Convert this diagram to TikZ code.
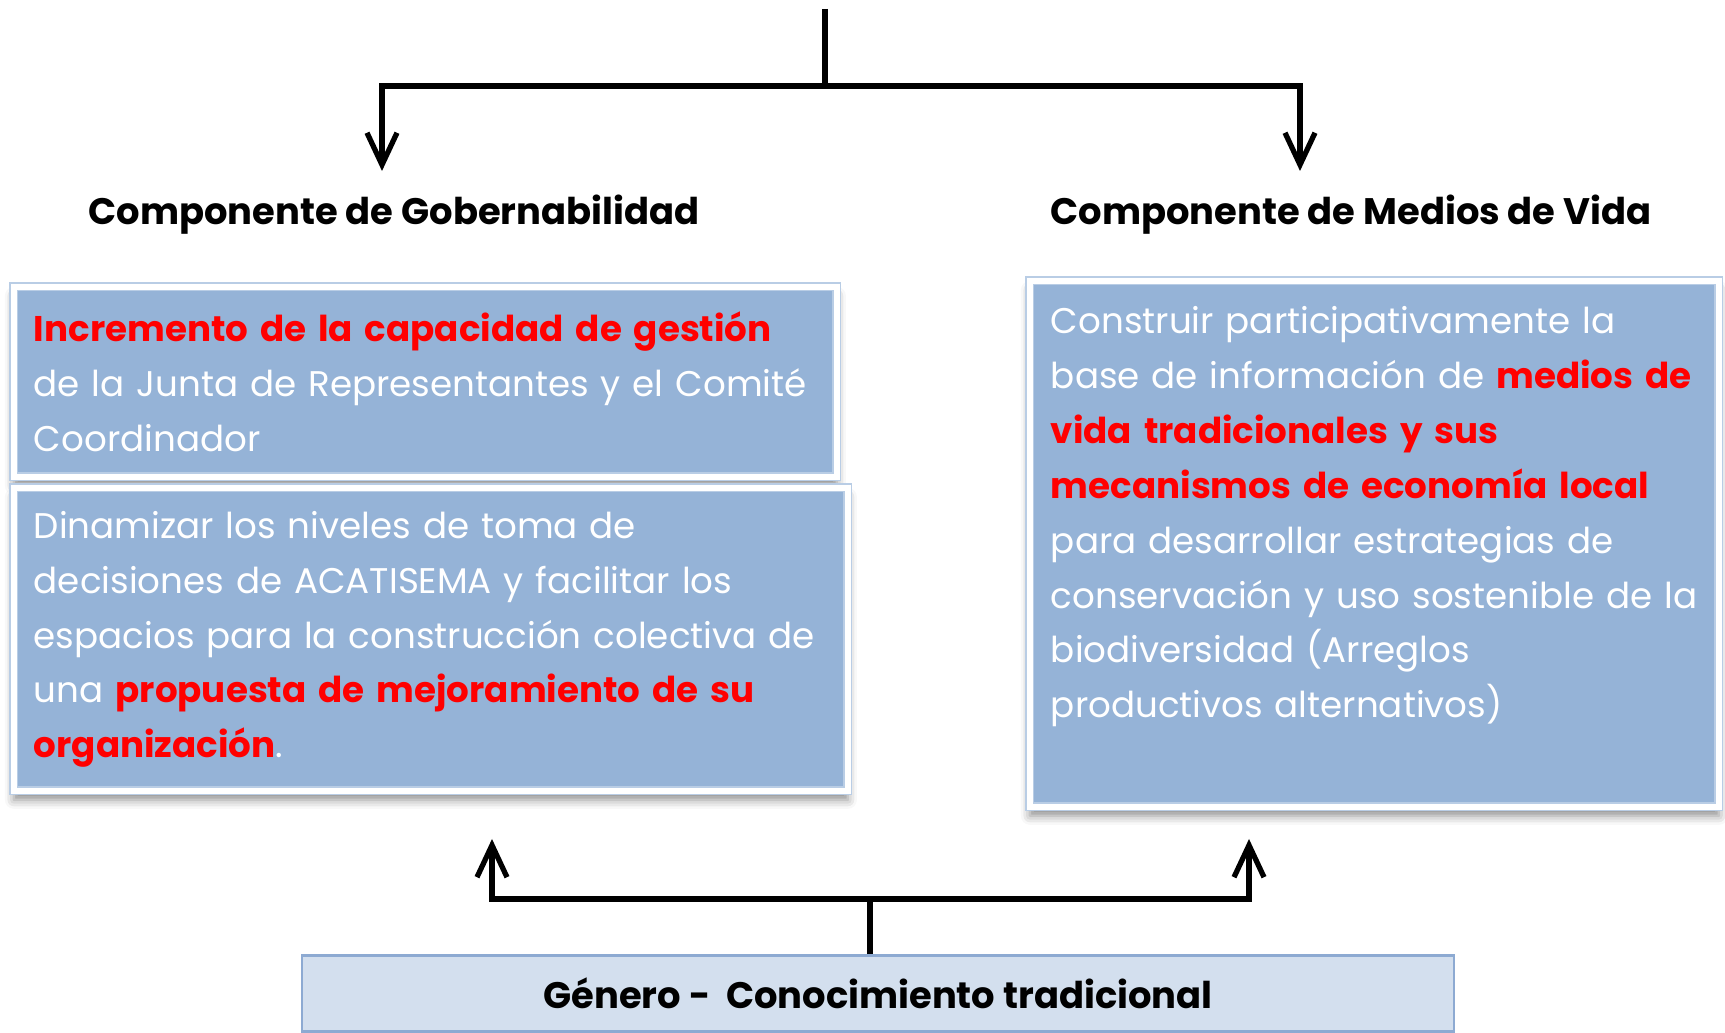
\documentclass[tikz,border=0pt]{standalone}
\usepackage{fontspec}
\setmainfont{Poppins}
\usetikzlibrary{arrows.meta,positioning,shadows.blur}

\definecolor{cajaazul}{HTML}{95B3D7}
\definecolor{bordeazul}{HTML}{B9CDE5}
\definecolor{cajaclara}{HTML}{D3DFEE}
\definecolor{bordeclaro}{HTML}{8DAAD2}

\newcommand{\resalta}[1]{\textbf{\color{red}#1}}

\tikzset{
  caja/.style={draw=bordeazul, double=white, double distance=1.6pt, line width=0.5pt,
    fill=cajaazul, text=white, align=left, inner xsep=2mm, inner ysep=2mm,
    font=\fontsize{10.15}{15.6}\selectfont,
    blur shadow={shadow xshift=0mm, shadow yshift=-0.9mm, shadow blur radius=0.9mm,
      shadow opacity=45}},
  titulo/.style={font=\bfseries\fontsize{10.5}{12}\selectfont},
  linea/.style={line width=1.5pt},
  flecha/.style={linea, -{Straight Barb[length=3.2mm,width=3mm]}},
}

\begin{document}
\begin{tikzpicture}[x=0.1mm,y=0.1mm]
  \useasboundingbox (0,0) rectangle (1725,1033);

  % titulos
  \node[titulo] (gober) at (394,818) {Componente de Gobernabilidad};
  \node[titulo] (medtit) at (1351,818) {Componente de Medios de Vida};

  % cajas
  \node[caja, text width=78.3mm, minimum height=19mm, anchor=north west] (gestion) at (13,747)
    {\resalta{Incremento de la capacidad de gestión}\\
     de la Junta de Representantes y el Comité\\
     Coordinador};
  \node[caja, text width=79.4mm, minimum height=30.3mm, anchor=north west] (dinamizar) at (13,546)
    {Dinamizar los niveles de toma de\\
     decisiones de ACATISEMA y facilitar los\\
     espacios para la construcción colectiva de\\
     una \resalta{propuesta de mejoramiento de su}\\
     \resalta{organización}.};
  \node[caja, text width=64.7mm, inner xsep=2.1mm, text height=3.3mm, text depth=45.3mm,
        anchor=north west] (medios) at (1029,753)
    {Construir participativamente la\\
     base de información de \resalta{medios de}\\
     \resalta{vida tradicionales y sus}\\
     \resalta{mecanismos de economía local}\\
     para desarrollar estrategias de\\
     conservación y uso sostenible de la\\
     biodiversidad (Arreglos\\
     productivos alternativos)};

  \node[draw=bordeclaro, line width=0.8pt, fill=cajaclara, minimum width=115.2mm,
        minimum height=7.6mm, anchor=south, font=\bfseries\fontsize{10.5}{12}\selectfont]
        (genero) at (878,0) {Género -\ \ Conocimiento tradicional};

  % conectores
  \coordinate (raiz) at (825,1024);
  \coordinate (rama) at (825,947);
  \coordinate (puntaG) at (382,862);
  \coordinate (puntaM) at (1300,862);
  \draw[linea] (raiz) -- (rama);
  \draw[flecha] (rama) -| (puntaG);
  \draw[flecha] (rama) -| (puntaM);

  \coordinate (union) at (870,134);
  \coordinate (subeG) at (492,194);
  \coordinate (subeM) at (1249,194);
  \draw[linea] (genero.north -| union) -- (union);
  \draw[flecha] (union) -| (subeG);
  \draw[flecha] (union) -| (subeM);
\end{tikzpicture}
\end{document}
